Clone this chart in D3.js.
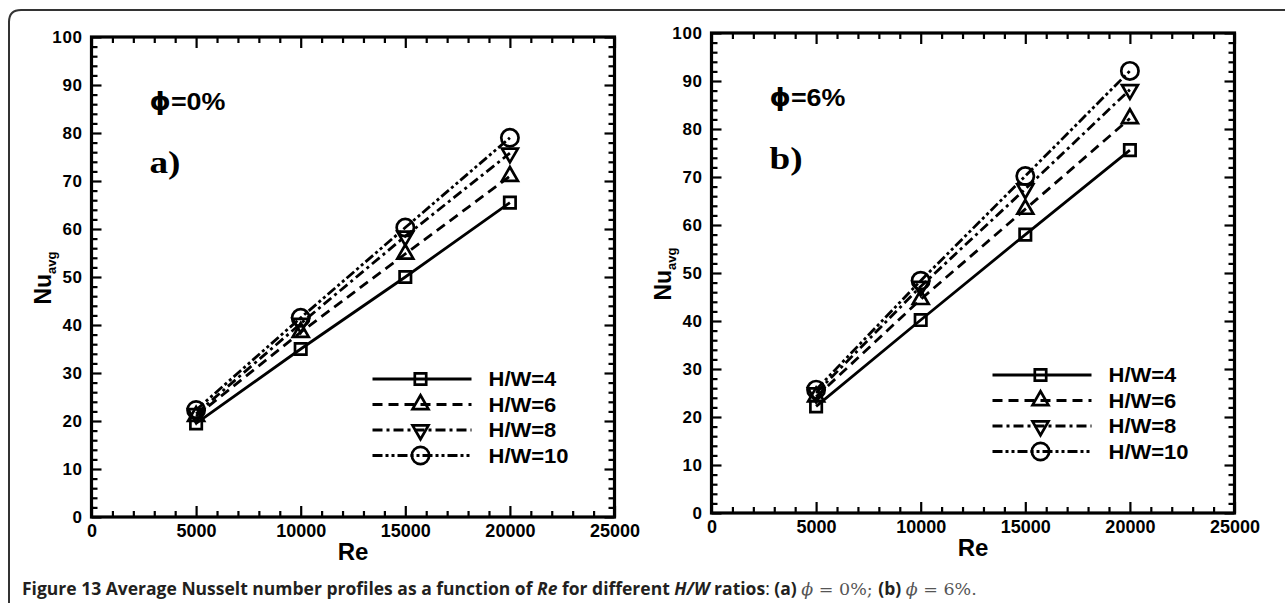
<!DOCTYPE html>
<html>
<head>
<meta charset="utf-8">
<script src="https://cdn.jsdelivr.net/npm/d3@7"></script>
<style>
  body { margin: 0; background: #fff; }
</style>
</head>
<body>
<script>
// values
const reValues = [5000, 10000, 15000, 20000];
const hwLabels = ["H/W=4", "H/W=6", "H/W=8", "H/W=10"];

// (a) phi = 0%
const nuPhi0_hw4  = [19.5, 35.0, 50.0, 65.5];
const nuPhi0_hw6  = [21.0, 38.5, 54.8, 71.0];
const nuPhi0_hw8  = [21.5, 40.3, 58.5, 75.8];
const nuPhi0_hw10 = [22.3, 41.5, 60.3, 79.0];

// (b) phi = 6%
const nuPhi6_hw4  = [22.2, 40.2, 58.0, 75.6];
const nuPhi6_hw6  = [24.2, 44.5, 63.3, 82.2];
const nuPhi6_hw8  = [25.0, 47.2, 67.5, 88.2];
const nuPhi6_hw10 = [25.7, 48.4, 70.2, 92.1];

const xTicks = [0, 5000, 10000, 15000, 20000, 25000];
const yTicks = [0, 10, 20, 30, 40, 50, 60, 70, 80, 90, 100];

const SANS = "Liberation Sans, Arial, sans-serif";

const svg = d3.select("body").append("svg")
    .attr("width", 1285)
    .attr("height", 608)
    .attr("font-family", SANS);

// outer frame of the figure box
svg.append("path")
    .attr("d", "M9,603 V22 Q9,10 21,10 H1285")
    .attr("fill", "none")
    .attr("stroke", "#333")
    .attr("stroke-width", 2);

const dashes = [null, "10,6", "10,4,3,4", "10,3,3,3,3,3"];
const symbols = [d3.symbolSquare, d3.symbolTriangle, d3.symbolTriangle, d3.symbolCircle];
const symSizes = [130, 110, 110, 235];
const symRot = [0, 0, 180, 0];

function marker(g, i, cx, cy) {
    g.append("path")
        .attr("d", d3.symbol().type(symbols[i]).size(symSizes[i])())
        .attr("transform", `translate(${cx},${cy}) rotate(${symRot[i]})`)
        .attr("fill", "none")
        .attr("stroke", "#000")
        .attr("stroke-width", 2.7);
}

function drawPanel(left, top, series, phiLabel, letter) {
    const w = 523, h = 480;
    const x = d3.scaleLinear().domain([0, 25000]).range([left, left + w]);
    const y = d3.scaleLinear().domain([0, 100]).range([top + h, top]);
    const g = svg.append("g");

    const xMinor = d3.range(0, 25001, 1000).filter(v => v % 5000 !== 0);
    const yMinor = d3.range(0, 101, 2).filter(v => v % 10 !== 0);

    const axes = [
        [d3.axisBottom(x).tickValues(xTicks).tickSize(-11).tickPadding(7).tickFormat(d3.format("d")), `translate(0,${top + h})`, "x"],
        [d3.axisBottom(x).tickValues(xMinor).tickSize(-6).tickFormat(""), `translate(0,${top + h})`],
        [d3.axisTop(x).tickValues(xTicks).tickSize(-11).tickFormat(""), `translate(0,${top})`],
        [d3.axisTop(x).tickValues(xMinor).tickSize(-6).tickFormat(""), `translate(0,${top})`],
        [d3.axisLeft(y).tickValues(yTicks).tickSize(-10).tickPadding(9), `translate(${left},0)`, "y"],
        [d3.axisLeft(y).tickValues(yMinor).tickSize(-6).tickFormat(""), `translate(${left},0)`],
        [d3.axisRight(y).tickValues(yTicks).tickSize(-10).tickFormat(""), `translate(${left + w},0)`],
        [d3.axisRight(y).tickValues(yMinor).tickSize(-6).tickFormat(""), `translate(${left + w},0)`]
    ];
    axes.forEach(([ax, tr, kind]) => {
        const a = g.append("g").attr("transform", tr).call(ax);
        a.select(".domain").remove();
        a.selectAll("line").attr("stroke", "#000").attr("stroke-width", 2.2);
        a.selectAll("text")
            .attr("fill", "#000")
            .attr("font-family", SANS)
            .attr("font-weight", "bold")
            .attr("font-size", kind === "x" ? 18 : 17)
            .attr("letter-spacing", kind === "y" ? 0.6 : 0);
    });

    g.append("rect")
        .attr("x", left).attr("y", top)
        .attr("width", w).attr("height", h)
        .attr("fill", "none")
        .attr("stroke", "#000")
        .attr("stroke-width", 3.2);

    const line = d3.line()
        .x((d, i) => x(reValues[i]))
        .y(d => y(d));

    series.forEach((vals, i) => {
        g.append("path")
            .attr("d", line(vals))
            .attr("fill", "none")
            .attr("stroke", "#000")
            .attr("stroke-width", 2.8)
            .attr("stroke-dasharray", dashes[i]);
        vals.forEach((v, j) => marker(g, i, x(reValues[j]), y(v)));
    });

    // legend
    hwLabels.forEach((lab, i) => {
        const ry = top + 342 + i * 25.5;
        g.append("line")
            .attr("x1", left + 281).attr("x2", left + 380)
            .attr("y1", ry).attr("y2", ry)
            .attr("stroke", "#000")
            .attr("stroke-width", 2.8)
            .attr("stroke-dasharray", dashes[i]);
        marker(g, i, left + 329, ry);
        g.append("text")
            .attr("transform", `translate(${left + 397},${ry + 7}) scale(1.1,1)`)
            .attr("font-size", 20)
            .attr("font-weight", "bold")
            .text(lab);
    });

    // phi annotation
    const pt = g.append("text")
        .attr("transform", `translate(${left + 58},${top + 73}) scale(1.12,1)`)
        .attr("font-size", 24)
        .attr("font-weight", "bold");
    pt.append("tspan").attr("font-family", "DejaVu Sans").text("\u03D5");
    pt.append("tspan").text(phiLabel);

    g.append("text")
        .attr("transform", `translate(${left + 58},${top + 136}) scale(1.2,1)`)
        .attr("font-family", "Liberation Serif, Times New Roman, serif")
        .attr("font-size", 31)
        .attr("font-weight", "bold")
        .text(letter);

    // axis titles
    g.append("text")
        .attr("x", left + w / 2).attr("y", top + h + 43)
        .attr("text-anchor", "middle")
        .attr("font-size", 24)
        .attr("font-weight", "bold")
        .text("Re");

    const yl = g.append("text")
        .attr("transform", `translate(${left - 41},${top + 241}) rotate(-90)`)
        .attr("text-anchor", "middle")
        .attr("font-weight", "bold")
        .attr("font-size", 23);
    yl.append("tspan").text("Nu");
    yl.append("tspan").attr("font-size", 13).attr("dy", 5).text("avg");
}

drawPanel(91.5, 37, [nuPhi0_hw4, nuPhi0_hw6, nuPhi0_hw8, nuPhi0_hw10], "=0%", "a)");
drawPanel(711.5, 33, [nuPhi6_hw4, nuPhi6_hw6, nuPhi6_hw8, nuPhi6_hw10], "=6%", "b)");

// caption
const cap = svg.append("text")
    .attr("x", 22).attr("y", 595)
    .attr("font-size", 17.5)
    .attr("fill", "#231f20");
const capParts = [
    ["Figure 13 ", 700, "normal", "Open Sans"],
    ["Average Nusselt number profiles as a function of ", 700, "normal", "Open Sans"],
    ["Re", 700, "italic", "Open Sans"],
    [" for different ", 700, "normal", "Open Sans"],
    ["H/W", 700, "italic", "Open Sans"],
    [" ratios", 700, "normal", "Open Sans"],
    [": ", 400, "normal", "Open Sans"],
    ["(a) ", 700, "normal", "Open Sans"],
    ["\u03D5", 400, "italic", "DejaVu Serif"],
    [" = 0%; ", 400, "normal", "DejaVu Serif"],
    ["(b) ", 700, "normal", "Open Sans"],
    ["\u03D5", 400, "italic", "DejaVu Serif"],
    [" = 6%.", 400, "normal", "DejaVu Serif"]
];
capParts.forEach(([t, wgt, sty, fam]) => {
    cap.append("tspan")
        .attr("font-family", fam)
        .attr("font-weight", wgt)
        .attr("font-style", sty)
        .attr("fill", fam === "DejaVu Serif" ? "#555" : "#231f20")
        .text(t);
});
</script>
</body>
</html>
